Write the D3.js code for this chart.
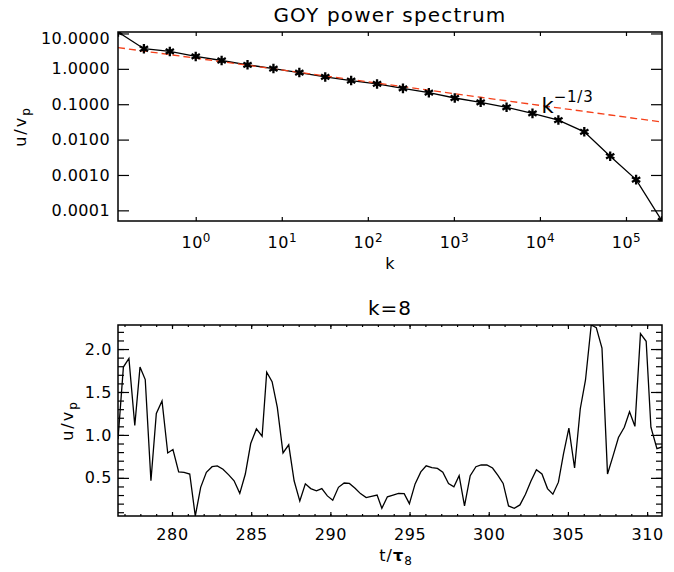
<!DOCTYPE html>
<html>
<head>
<meta charset="utf-8">
<script src="https://cdn.jsdelivr.net/npm/d3@7.9.0/dist/d3.min.js"></script>
<style>
  body { margin: 0; background: #fff; }
  text { font-family: "DejaVu Sans", sans-serif; fill: #000; }
</style>
</head>
<body>
<svg id="chart" width="674" height="572"></svg>
<script>
// GOY shell model spectrum, k = 2^n
const shellK = [0.125, 0.25, 0.5, 1, 2, 4, 8, 16, 32, 64, 128, 256, 512, 1024, 2048,
  4096, 8192, 16384, 32768, 65536, 131072, 262144];
const shellU = [11.0, 3.7, 3.1, 2.24, 1.72, 1.30, 1.02, 0.785, 0.59, 0.466, 0.375, 0.28,
  0.212, 0.15, 0.113, 0.082, 0.055, 0.0356, 0.0166, 0.0034, 0.00074, 0.00005];
const refAmp = 2; // amplitude of the k^-1/3 guide line

const specXTicks = [1, 10, 100, 1000, 10000, 100000];
const specXExp = ['0', '1', '2', '3', '4', '5'];
const specYTicks = [10, 1, 0.1, 0.01, 0.001, 0.0001];
const specYLabels = ['10.0000', '1.0000', '0.1000', '0.0100', '0.0010', '0.0001'];

// time series of shell k=8
const times = [276.59, 276.93, 277.28, 277.65, 277.98, 278.31, 278.67, 279.01, 279.37, 279.73,
  280.06, 280.42, 280.76, 281.12, 281.47, 281.81, 282.17, 282.53, 282.86, 283.22,
  283.58, 283.92, 284.28, 284.63, 284.97, 285.33, 285.69, 285.98, 286.32, 286.65,
  287.01, 287.37, 287.71, 288.07, 288.42, 288.76, 289.12, 289.46, 289.81, 290.15,
  290.51, 290.87, 291.20, 291.56, 291.90, 292.26, 292.59, 292.95, 293.25, 293.60,
  293.96, 294.30, 294.66, 294.99, 295.35, 295.71, 296.05, 296.41, 296.76, 297.10,
  297.46, 297.80, 298.13, 298.47, 298.83, 299.19, 299.52, 299.88, 300.24, 300.58,
  300.91, 301.25, 301.61, 301.97, 302.32, 302.66, 303.01, 303.36, 303.71, 304.05,
  304.40, 304.72, 305.06, 305.42, 305.78, 306.11, 306.47, 306.79, 307.15, 307.50,
  307.84, 308.19, 308.56, 308.89, 309.23, 309.58, 309.94, 310.24, 310.62, 310.94];
const u8 = [0.95, 1.79, 1.89, 1.11, 1.79, 1.645, 0.466, 1.25, 1.395, 0.79,
  0.83, 0.57, 0.565, 0.545, 0.056, 0.39, 0.565, 0.63, 0.64, 0.60,
  0.535, 0.466, 0.32, 0.545, 0.90, 1.07, 0.985, 1.73, 1.62, 1.32,
  0.79, 0.885, 0.466, 0.23, 0.43, 0.375, 0.35, 0.375, 0.29, 0.24,
  0.39, 0.44, 0.435, 0.38, 0.317, 0.27, 0.285, 0.30, 0.146, 0.28,
  0.30, 0.32, 0.317, 0.20, 0.43, 0.57, 0.64, 0.62, 0.61, 0.565,
  0.435, 0.395, 0.525, 0.173, 0.525, 0.63, 0.65, 0.65, 0.615, 0.53,
  0.435, 0.173, 0.146, 0.185, 0.31, 0.46, 0.595, 0.545, 0.375, 0.31,
  0.45, 0.78, 1.08, 0.615, 1.305, 1.64, 2.28, 2.25, 2.01, 0.545,
  0.75, 0.97, 1.09, 1.27, 1.10, 2.18, 2.09, 1.09, 0.84, 0.86];

const tsXTicks = [280, 285, 290, 295, 300, 305, 310];
const tsYTicks = [0.5, 1.0, 1.5, 2.0];

const svg = d3.select('#chart');
const left = 118, right = 662;
const w = right - left;

// ---------- top panel: spectrum ----------
const top1 = 32, h1 = 189;
const g1 = svg.append('g').attr('transform', `translate(${left},${top1})`);

let x1 = d3.scaleLog().domain(d3.extent(shellK)).range([0, w]);
let y1 = d3.scaleLog().domain(d3.extent(shellU)).range([h1, 0]);

g1.append('clipPath').attr('id', 'clip1')
  .append('rect').attr('width', w).attr('height', h1);

let xb1 = g1.append('g').attr('transform', `translate(0,${h1})`)
  .call(d3.axisBottom(x1).tickValues(specXTicks).tickSize(-4).tickPadding(16).tickFormat(''));
xb1.selectAll('.tick text').each(function(d, i) {
  let t = d3.select(this).attr('font-size', 16).attr('font-family', null).attr('letter-spacing', 0.5);
  t.append('tspan').text('10');
  t.append('tspan').attr('dy', -6).attr('font-size', 12).text(specXExp[i]);
});
g1.append('g').call(d3.axisTop(x1).tickValues(specXTicks).tickSize(-4).tickFormat(''));

g1.append('g')
  .call(d3.axisLeft(y1).tickValues(specYTicks).tickSize(-11).tickPadding(8)
    .tickFormat((d, i) => specYLabels[i]))
  .selectAll('.tick text').attr('font-size', 16).attr('font-family', null).attr('letter-spacing', 0.4)
  .attr('y', (d) => (y1(d) < 6 ? 6 - y1(d) : 0));
g1.append('g').attr('transform', `translate(${w},0)`)
  .call(d3.axisRight(y1).tickValues(specYTicks).tickSize(-11).tickFormat(''));

let plotArea1 = g1.append('g').attr('clip-path', 'url(#clip1)');

plotArea1.append('path')
  .datum(shellK.map((k, i) => [k, shellU[i]]))
  .attr('fill', 'none').attr('stroke', '#000').attr('stroke-width', 1.3)
  .attr('d', d3.line().x((d) => x1(d[0])).y((d) => y1(d[1])));

plotArea1.append('path')
  .datum(shellK.map((k) => [k, refAmp * Math.pow(k, -1 / 3)]))
  .attr('fill', 'none').attr('stroke', '#f5401a').attr('stroke-width', 1.3)
  .attr('stroke-dasharray', '7,4')
  .attr('d', d3.line().x((d) => x1(d[0])).y((d) => y1(d[1])));

let star = d3.symbol(d3.symbolAsterisk || d3.symbolCross).size(64);
plotArea1.selectAll('.mark').data(shellK).join('path')
  .attr('class', 'mark')
  .attr('transform', (d, i) => `translate(${x1(d)},${y1(shellU[i])})`)
  .attr('d', star).attr('fill', 'none').attr('stroke', '#000').attr('stroke-width', 2.3);

let guide = g1.append('text').attr('x', x1(8192) + 9).attr('y', y1(0.058)).attr('font-size', 21);
guide.append('tspan').text('k');
guide.append('tspan').attr('dy', -11).attr('font-size', 15).attr('letter-spacing', 0.8).text('\u22121/3');

g1.append('rect').attr('width', w).attr('height', h1)
  .attr('fill', 'none').attr('stroke', '#000').attr('stroke-width', 1.5);

svg.append('text').attr('x', left + w / 2).attr('y', 22).attr('text-anchor', 'middle')
  .attr('font-size', 20).attr('letter-spacing', 1.2).text('GOY power spectrum');
svg.append('text').attr('x', left + w / 2).attr('y', 269).attr('text-anchor', 'middle')
  .attr('font-size', 16).text('k');

let yl1 = svg.append('text').attr('transform', `translate(26,${top1 + h1 / 2}) rotate(-90)`)
  .attr('text-anchor', 'middle').attr('font-size', 16).attr('letter-spacing', 2);
yl1.append('tspan').text('u/v');
yl1.append('tspan').attr('dy', 4).attr('font-size', 12).text('p');

// ---------- bottom panel: time series ----------
const top2 = 325, h2 = 191;
const g2 = svg.append('g').attr('transform', `translate(${left},${top2})`);

let x2 = d3.scaleLinear().domain(d3.extent(times)).range([0, w]);
let y2 = d3.scaleLinear().domain(d3.extent(u8)).range([h2, 0]);

g2.append('clipPath').attr('id', 'clip2')
  .append('rect').attr('width', w).attr('height', h2);

let xMinor = d3.range(277, 311, 1);
let yMinor = d3.range(0.1, 2.25, 0.1);

g2.append('g').attr('transform', `translate(0,${h2})`)
  .call(d3.axisBottom(x2).tickValues(xMinor).tickSize(-2).tickFormat(''));
g2.append('g').call(d3.axisTop(x2).tickValues(xMinor).tickSize(-2).tickFormat(''));
g2.append('g').attr('transform', `translate(0,${h2})`)
  .call(d3.axisBottom(x2).tickValues(tsXTicks).tickSize(-4).tickPadding(13).tickFormat(d3.format('d')))
  .selectAll('.tick text').attr('font-size', 16).attr('font-family', null).attr('letter-spacing', 0.6);
g2.append('g').call(d3.axisTop(x2).tickValues(tsXTicks).tickSize(-4).tickFormat(''));

g2.append('g').call(d3.axisLeft(y2).tickValues(yMinor).tickSize(-6).tickFormat(''));
g2.append('g').attr('transform', `translate(${w},0)`)
  .call(d3.axisRight(y2).tickValues(yMinor).tickSize(-6).tickFormat(''));
g2.append('g')
  .call(d3.axisLeft(y2).tickValues(tsYTicks).tickSize(-11).tickPadding(6).tickFormat(d3.format('.1f')))
  .selectAll('.tick text').attr('font-size', 16).attr('font-family', null).attr('letter-spacing', 0.6);
g2.append('g').attr('transform', `translate(${w},0)`)
  .call(d3.axisRight(y2).tickValues(tsYTicks).tickSize(-11).tickFormat(''));

g2.append('g').attr('clip-path', 'url(#clip2)').append('path')
  .datum(times.map((t, i) => [t, u8[i]]))
  .attr('fill', 'none').attr('stroke', '#000').attr('stroke-width', 1.3)
  .attr('d', d3.line().x((d) => x2(d[0])).y((d) => y2(d[1])));

g2.append('rect').attr('width', w).attr('height', h2)
  .attr('fill', 'none').attr('stroke', '#000').attr('stroke-width', 1.5);

svg.append('text').attr('x', left + w / 2).attr('y', 315).attr('text-anchor', 'middle')
  .attr('font-size', 20).attr('letter-spacing', 1).text('k=8');

let xl2 = svg.append('text').attr('x', left + w / 2 + 6).attr('y', 561).attr('text-anchor', 'middle')
  .attr('font-size', 16).attr('letter-spacing', 1);
xl2.append('tspan').text('t/');
xl2.append('tspan').attr('font-weight', 'bold').text('\u03c4');
xl2.append('tspan').attr('dy', 4).attr('font-size', 12).text('8');

let yl2 = svg.append('text').attr('transform', `translate(73,${top2 + h2 / 2}) rotate(-90)`)
  .attr('text-anchor', 'middle').attr('font-size', 16).attr('letter-spacing', 2);
yl2.append('tspan').text('u/v');
yl2.append('tspan').attr('dy', 4).attr('font-size', 12).text('p');

svg.selectAll('.domain').remove();
svg.selectAll('.tick line').attr('stroke', '#000').attr('stroke-width', 1.2);
</script>
</body>
</html>
